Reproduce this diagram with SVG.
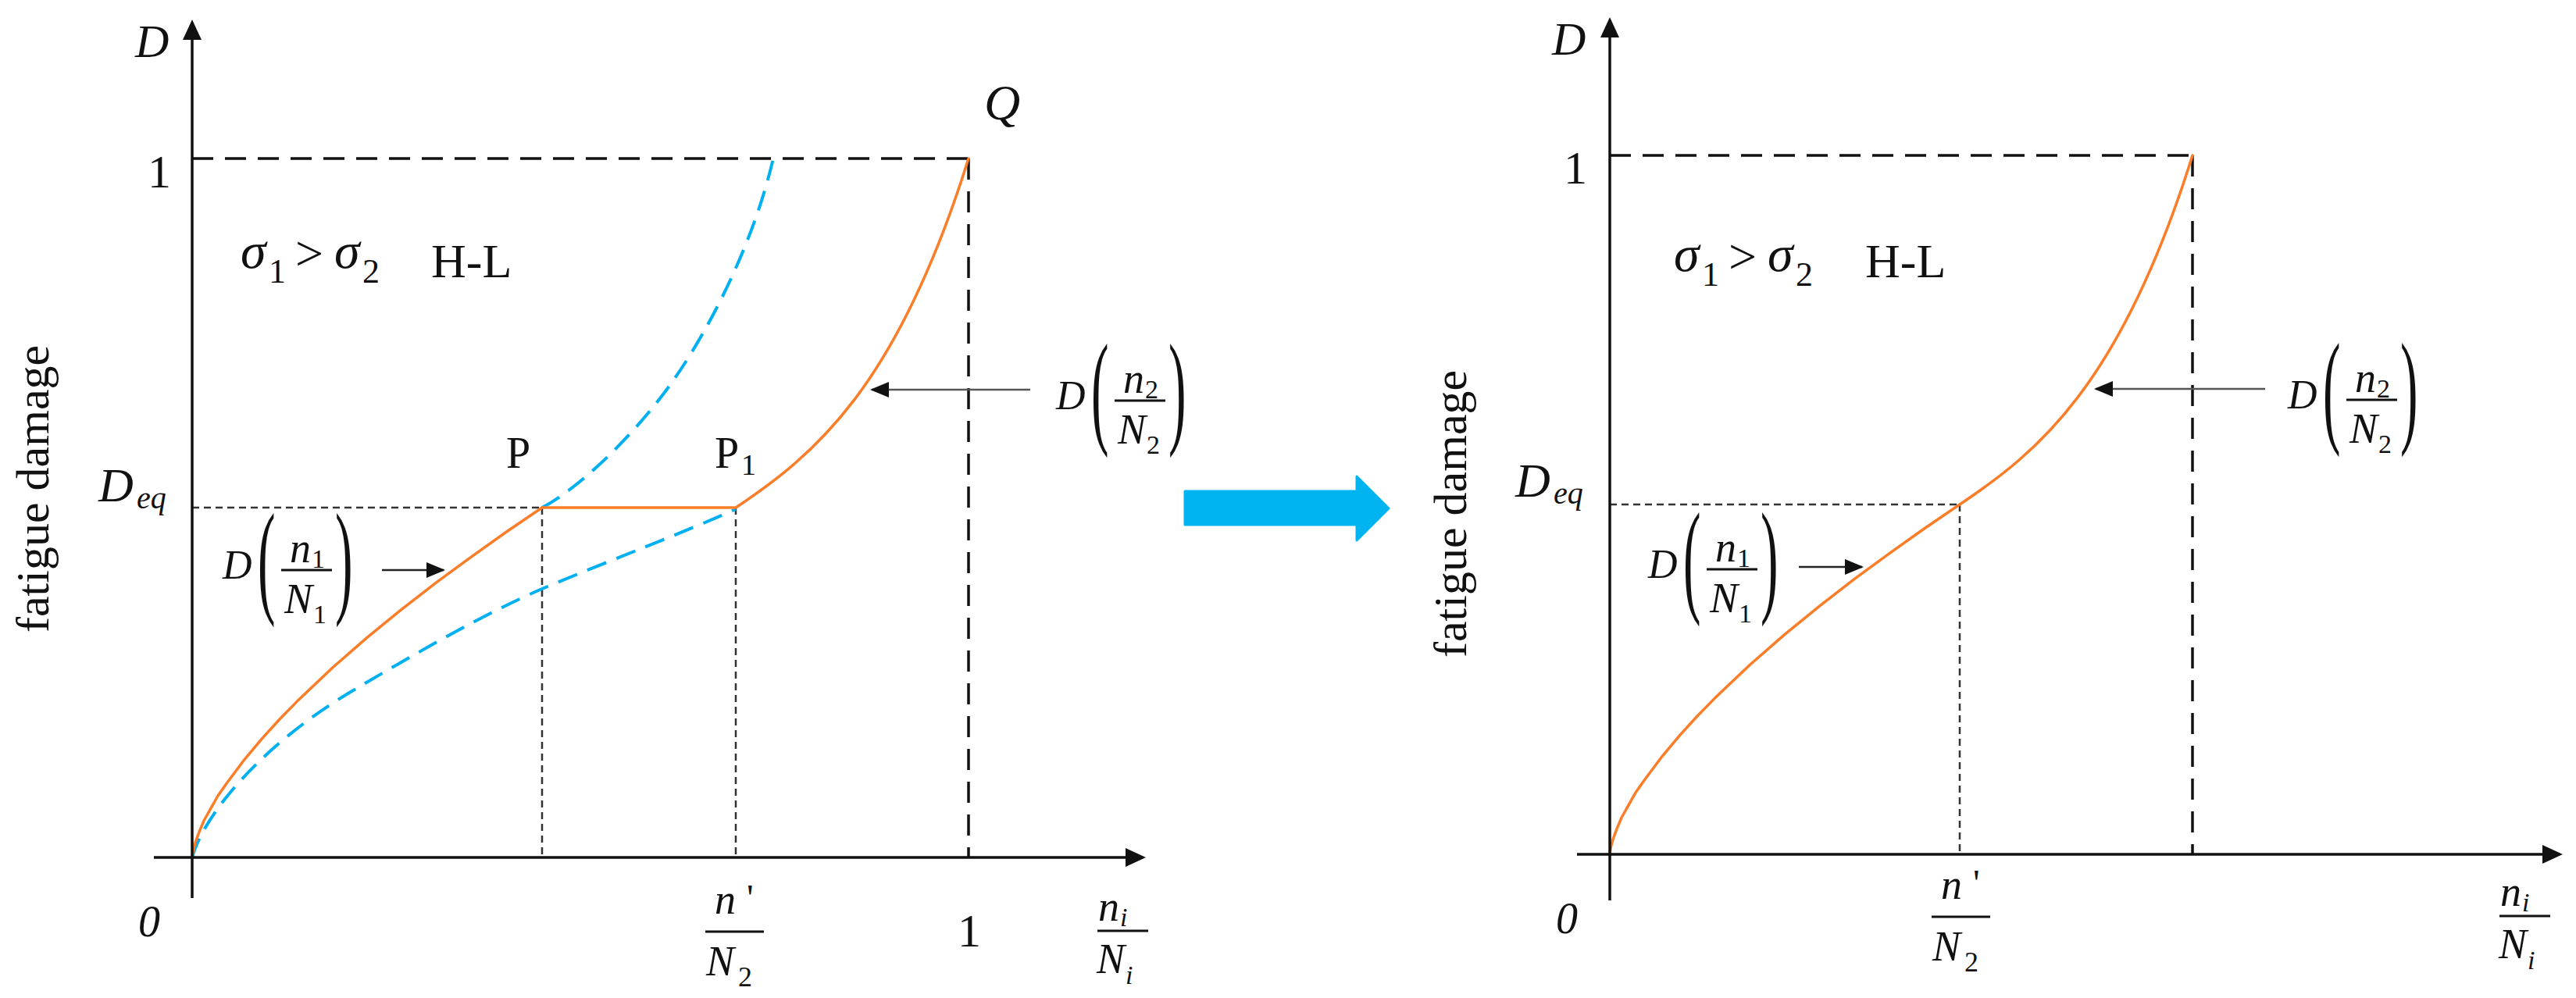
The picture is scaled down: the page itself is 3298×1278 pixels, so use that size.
<svg xmlns="http://www.w3.org/2000/svg" width="3298" height="1278" viewBox="0 0 3298 1278">
<style>
.mi{font-family:"Liberation Serif","Times New Roman",serif;font-style:italic;fill:#111}
.rm{font-family:"Liberation Serif","Times New Roman",serif;fill:#111}
.up{font-style:normal}
.axis{stroke:#111;stroke-width:3.5;fill:none}
.dash{stroke:#111;stroke-width:3.5;stroke-dasharray:27 15;fill:none}
.dot{stroke:#333;stroke-width:2.5;stroke-dasharray:9 6;fill:none}
.or{stroke:#fb7d28;stroke-width:3.5;fill:none;stroke-linejoin:round;stroke-linecap:round}
.cy{stroke:#00b0f0;stroke-width:4;fill:none;stroke-dasharray:26 14}
.bar{stroke:#111;stroke-width:3}
.p1{stroke:#222;stroke-width:2.5}
.p2{stroke:#555;stroke-width:2.5}
</style>
<defs>
<marker id="axhead" markerUnits="userSpaceOnUse" markerWidth="26" markerHeight="24" refX="22" refY="12" orient="auto"><path d="M0,0 L26,12 L0,24 z" fill="#111"/></marker>
<marker id="ptrhead" markerUnits="userSpaceOnUse" markerWidth="24" markerHeight="20" refX="22" refY="10" orient="auto"><path d="M0,0 L24,10 L0,20 z" fill="#111"/></marker>
</defs>

<!-- ================= LEFT PLOT ================= -->
<g id="left-plot">
  <g id="left-guides">
    <line class="dash" x1="246" y1="203" x2="1240" y2="203"/>
    <line class="dash" x1="1240" y1="203" x2="1240" y2="1098"/>
    <line class="dot" x1="246" y1="650" x2="694" y2="650"/>
    <line class="dot" x1="694" y1="650" x2="694" y2="1098"/>
    <line class="dot" x1="942" y1="650" x2="942" y2="1098"/>
  </g>
  <g id="left-curves">
    <path class="cy" d="M246,1098 C262,1040 340,950 454,883 C530,838 620,786 694,754 C780,718 880,680 942,652"/>
    <path class="cy" d="M694,650 C740,626 810,560 860,490 C895,441 960,330 990,203"/>
    <path id="seg1" class="or" d="M246,1098 L247.3,1088.8 L250.5,1077.5 L255,1065.4 L261,1051 L268.4,1037.8 L279,1019 L290.8,1002.2 L313.2,972.3 L335.6,945.6 L358,921 L380.4,898.1 L425.2,855.5 L470,816.4 L514.8,779.8 L559.6,745.2 L604.4,712.3 L649.2,680.5 L694,650"/>
    <path class="or" d="M694,650 L942,650 C1042,583 1148,497 1240,203"/>
  </g>
  <g id="left-axes">
    <line class="axis" x1="246" y1="1150" x2="246" y2="29" marker-end="url(#axhead)"/>
    <line class="axis" x1="197" y1="1098" x2="1463" y2="1098" marker-end="url(#axhead)"/>
  </g>
  <g id="left-pointers">
    <line class="p1" x1="489" y1="730" x2="568" y2="730" marker-end="url(#ptrhead)"/>
    <line class="p2" x1="1319" y1="499" x2="1116" y2="499" marker-end="url(#ptrhead)"/>
  </g>
  <g id="left-labels">
    <text class="rm" transform="translate(62,810) rotate(-90)" font-size="60">fatigue damage</text>
    <text class="mi" x="173" y="73" font-size="60">D</text>
    <text class="rm" x="189" y="240" font-size="60">1</text>
    <text class="mi" x="126" y="642" font-size="62">D<tspan x="175" y="651" font-size="40">eq</tspan></text>
    <text class="mi" x="177" y="1199" font-size="56">0</text>
    <text class="mi" x="308" y="343" font-size="66">σ<tspan class="up" x="344" y="362" font-size="44">1</tspan><tspan class="up" x="378" y="346" font-size="64">&gt;</tspan><tspan x="428" y="343">σ</tspan><tspan class="up" x="464" y="362" font-size="44">2</tspan></text>
    <text class="rm" x="552" y="355" font-size="62">H-L</text>
    <text class="mi" x="1260" y="153" font-size="64">Q</text>
    <text class="rm" x="648" y="599" font-size="56">P</text>
    <text class="rm" x="915" y="599" font-size="56">P<tspan x="949" y="608" font-size="38">1</tspan></text>
    <text class="rm" x="1226" y="1212" font-size="60">1</text>
    <g id="left-nprime">
      <text class="mi" x="915" y="1170" font-size="54">n<tspan class="up" x="956" y="1166" font-size="48">'</tspan></text>
      <line class="bar" x1="903" y1="1193" x2="978" y2="1193"/>
      <text class="mi" x="904" y="1249" font-size="54">N<tspan class="up" x="945" y="1263" font-size="36">2</tspan></text>
    </g>
    <g id="left-niNi">
      <text class="mi" x="1406" y="1179" font-size="54">n<tspan x="1434" y="1186" font-size="34">i</tspan></text>
      <line class="bar" x1="1405" y1="1192" x2="1470" y2="1192"/>
      <text class="mi" x="1404" y="1246" font-size="54">N<tspan x="1441" y="1260" font-size="34">i</tspan></text>
    </g>
    <g id="left-Dn1N1">
      <text class="mi" x="285" y="741" font-size="52">D</text>
      <text class="rm" transform="translate(330,769) scale(1.3,3.1)" font-size="52">(</text>
      <text class="mi" x="371" y="720" font-size="54">n<tspan class="up" x="399" y="727" font-size="34">1</tspan></text>
      <line class="bar" x1="360" y1="730" x2="425" y2="730"/>
      <text class="mi" x="364" y="785" font-size="54">N<tspan class="up" x="401" y="798" font-size="34">1</tspan></text>
      <text class="rm" transform="translate(429,769) scale(1.3,3.1)" font-size="52">)</text>
    </g>
    <g id="left-Dn2N2" transform="translate(1067,-217)">
      <text class="mi" x="285" y="741" font-size="52">D</text>
      <text class="rm" transform="translate(330,769) scale(1.3,3.1)" font-size="52">(</text>
      <text class="mi" x="371" y="720" font-size="54">n<tspan class="up" x="399" y="727" font-size="34">2</tspan></text>
      <line class="bar" x1="360" y1="730" x2="425" y2="730"/>
      <text class="mi" x="364" y="785" font-size="54">N<tspan class="up" x="401" y="798" font-size="34">2</tspan></text>
      <text class="rm" transform="translate(429,769) scale(1.3,3.1)" font-size="52">)</text>
    </g>
  </g>
</g>

<!-- ================= TRANSITION ARROW ================= -->
<g id="transition-arrow">
  <path d="M1517,629 L1737,629 L1737,610 L1778,651 L1737,692 L1737,672 L1517,672 Z" fill="#00b4f0" stroke="#00b4f0" stroke-width="3" stroke-linejoin="round"/>
</g>

<!-- ================= RIGHT PLOT ================= -->
<g id="right-plot">
  <g id="right-guides">
    <line class="dash" x1="2061" y1="199" x2="2807" y2="199"/>
    <line class="dash" x1="2807" y1="199" x2="2807" y2="1094"/>
    <line class="dot" x1="2061" y1="646" x2="2509" y2="646"/>
    <line class="dot" x1="2509" y1="646" x2="2509" y2="1094"/>
  </g>
  <g id="right-curves">
    <path class="or" transform="translate(1815,-4)" d="M246,1098 L247.3,1088.8 L250.5,1077.5 L255,1065.4 L261,1051 L268.4,1037.8 L279,1019 L290.8,1002.2 L313.2,972.3 L335.6,945.6 L358,921 L380.4,898.1 L425.2,855.5 L470,816.4 L514.8,779.8 L559.6,745.2 L604.4,712.3 L649.2,680.5 L694,650"/>
    <path class="or" d="M2509,646 C2609,579 2715,493 2807,199"/>
  </g>
  <g id="right-axes">
    <line class="axis" x1="2061" y1="1153" x2="2061" y2="26" marker-end="url(#axhead)"/>
    <line class="axis" x1="2019" y1="1094" x2="3277" y2="1094" marker-end="url(#axhead)"/>
  </g>
  <g id="right-pointers">
    <line class="p1" x1="2303" y1="726" x2="2384" y2="726" marker-end="url(#ptrhead)"/>
    <line class="p2" x1="2900" y1="498" x2="2683" y2="498" marker-end="url(#ptrhead)"/>
  </g>
  <g id="right-labels">
    <text class="rm" transform="translate(1877,842) rotate(-90)" font-size="60">fatigue damage</text>
    <text class="mi" x="1987" y="70" font-size="60">D</text>
    <text class="rm" x="2002" y="235" font-size="60">1</text>
    <text class="mi" x="1940" y="636" font-size="62">D<tspan x="1989" y="645" font-size="40">eq</tspan></text>
    <text class="mi" x="1992" y="1195" font-size="56">0</text>
    <g transform="translate(1835,4)">
      <text class="mi" x="308" y="343" font-size="66">σ<tspan class="up" x="344" y="362" font-size="44">1</tspan><tspan class="up" x="378" y="346" font-size="64">&gt;</tspan><tspan x="428" y="343">σ</tspan><tspan class="up" x="464" y="362" font-size="44">2</tspan></text>
    </g>
    <text class="rm" x="2388" y="355" font-size="62">H-L</text>
    <g id="right-nprime" transform="translate(1570,-19)">
      <text class="mi" x="915" y="1170" font-size="54">n<tspan class="up" x="956" y="1166" font-size="48">'</tspan></text>
      <line class="bar" x1="903" y1="1193" x2="978" y2="1193"/>
      <text class="mi" x="904" y="1249" font-size="54">N<tspan class="up" x="945" y="1263" font-size="36">2</tspan></text>
    </g>
    <g id="right-niNi" transform="translate(1795,-19)">
      <text class="mi" x="1406" y="1179" font-size="54">n<tspan x="1434" y="1186" font-size="34">i</tspan></text>
      <line class="bar" x1="1405" y1="1192" x2="1470" y2="1192"/>
      <text class="mi" x="1404" y="1246" font-size="54">N<tspan x="1441" y="1260" font-size="34">i</tspan></text>
    </g>
    <g id="right-Dn1N1" transform="translate(1825,-1)">
      <text class="mi" x="285" y="741" font-size="52">D</text>
      <text class="rm" transform="translate(330,769) scale(1.3,3.1)" font-size="52">(</text>
      <text class="mi" x="371" y="720" font-size="54">n<tspan class="up" x="399" y="727" font-size="34">1</tspan></text>
      <line class="bar" x1="360" y1="730" x2="425" y2="730"/>
      <text class="mi" x="364" y="785" font-size="54">N<tspan class="up" x="401" y="798" font-size="34">1</tspan></text>
      <text class="rm" transform="translate(429,769) scale(1.3,3.1)" font-size="52">)</text>
    </g>
    <g id="right-Dn2N2" transform="translate(2644,-218)">
      <text class="mi" x="285" y="741" font-size="52">D</text>
      <text class="rm" transform="translate(330,769) scale(1.3,3.1)" font-size="52">(</text>
      <text class="mi" x="371" y="720" font-size="54">n<tspan class="up" x="399" y="727" font-size="34">2</tspan></text>
      <line class="bar" x1="360" y1="730" x2="425" y2="730"/>
      <text class="mi" x="364" y="785" font-size="54">N<tspan class="up" x="401" y="798" font-size="34">2</tspan></text>
      <text class="rm" transform="translate(429,769) scale(1.3,3.1)" font-size="52">)</text>
    </g>
  </g>
</g>
</svg>
